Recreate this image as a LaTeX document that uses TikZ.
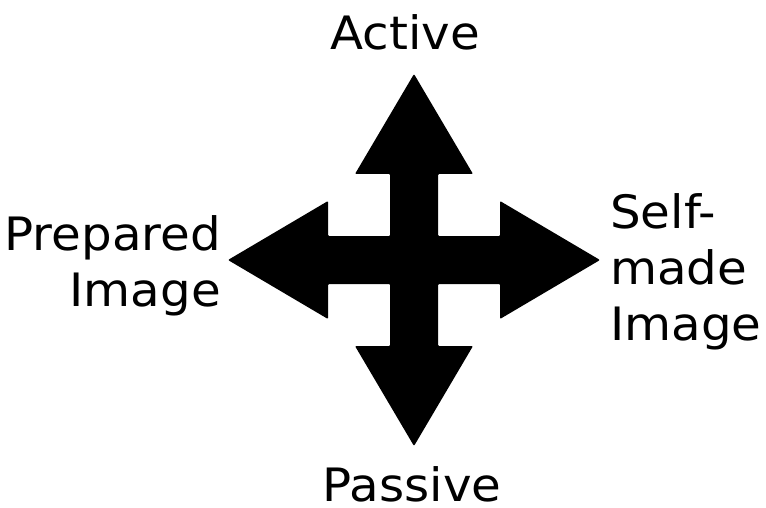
\documentclass[tikz,border=0pt]{standalone}
\usepackage{fontspec}
\setmainfont[FakeStretch=1.05]{DejaVu Sans}
\begin{document}
\begin{tikzpicture}[x=1pt,y=-1pt,
  label/.style={inner sep=0pt,font=\fontsize{46}{56}\selectfont},
  cross/.style={fill=black,rounded corners=1pt}]
\useasboundingbox (0,0) rectangle (766,508);
% four-way arrow: shaft half-width w, head half-width h, head base b, tip t
\def\w{24}\def\h{59}\def\b{86}\def\t{186}
\begin{scope}[shift={(414,260)}]
\fill[cross] (0,-\t) -- (\h,-\b) -- (\w,-\b) -- (\w,-\w) -- (\b,-\w) -- (\b,-\h)
  -- (\t,0) -- (\b,\h) -- (\b,\w) -- (\w,\w) -- (\w,\b) -- (\h,\b)
  -- (0,\t) -- (-\h,\b) -- (-\w,\b) -- (-\w,\w) -- (-\b,\w) -- (-\b,\h)
  -- (-\t,0) -- (-\b,-\h) -- (-\b,-\w) -- (-\w,-\w) -- (-\w,-\b) -- (-\h,-\b) -- cycle;
\end{scope}
\node[label,anchor=base] (active) at (405,50) {Active};
\node[label,anchor=base] (passive) at (412,501) {Passive};
\node[label,anchor=north east,align=right] (prepared) at (221,215) {Prepared\\Image};
\node[label,anchor=north west,align=left] (selfmade) at (610,193) {Self-\\made\\Image};
\end{tikzpicture}
\end{document}
